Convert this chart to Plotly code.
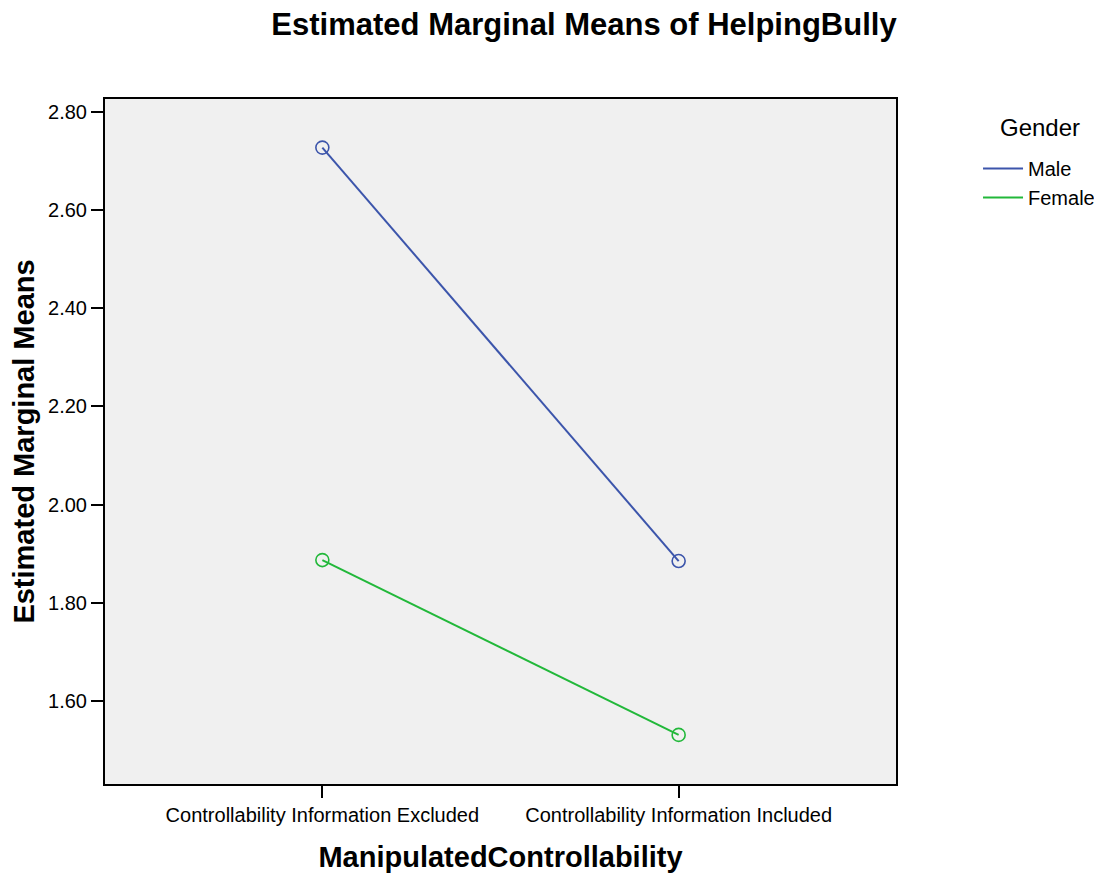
import plotly.graph_objects as go

categories = ["Controllability Information Excluded", "Controllability Information Included"]
male = [2.727, 1.885]
female = [1.887, 1.531]
y_ticks = [1.6, 1.8, 2.0, 2.2, 2.4, 2.6, 2.8]
y_tick_labels = ["1.60", "1.80", "2.00", "2.20", "2.40", "2.60", "2.80"]

BLUE = "#3C55AB"
GREEN = "#22B83A"
FONT = "Liberation Sans, Arial, sans-serif"

fig = go.Figure()
for name, vals, col in [("Male", male, BLUE), ("Female", female, GREEN)]:
    fig.add_trace(go.Scatter(x=[0, 1], y=vals, mode="lines", name=name,
                             line=dict(color=col, width=2)))
    fig.add_trace(go.Scatter(x=[0, 1], y=vals, mode="markers", showlegend=False,
                             marker=dict(symbol="circle-open", size=13, color=col,
                                         line=dict(width=1.6, color=col))))

fig.update_layout(
    width=1102, height=880,
    paper_bgcolor="white", plot_bgcolor="#F0F0F0",
    margin=dict(l=97, r=214, t=91, b=104, autoexpand=False),
    font=dict(family=FONT, color="black"),
    title=dict(text="<b>Estimated Marginal Means of HelpingBully</b>",
               x=576/1102, xanchor="center", y=1 - 16/880, yanchor="middle",
               xref="container", yref="container",
               font=dict(size=31, family=FONT, color="black")),
    legend=dict(x=1.1037, y=0.927, xanchor="left", yanchor="top",
                font=dict(size=20), tracegroupgap=0, itemwidth=40,
                bgcolor="rgba(0,0,0,0)"),
    showlegend=True,
    annotations=[dict(text="Gender", xref="paper", yref="paper",
                      x=1.182, y=0.9577, xanchor="center", yanchor="middle",
                      showarrow=False, font=dict(size=24, family=FONT, color="black"))],
)
fig.update_xaxes(
    range=[-0.61, 1.61], tickvals=[0, 1], ticktext=categories,
    ticks="outside", ticklen=12, tickwidth=2, tickcolor="black",
    showgrid=False, zeroline=False, showline=True, linecolor="black", linewidth=2,
    mirror=True, tickfont=dict(size=20),
    title=dict(text="<b>ManipulatedControllability</b>", font=dict(size=29), standoff=22),
)
fig.update_yaxes(
    range=[1.431, 2.826], tickvals=y_ticks, ticktext=y_tick_labels,
    ticks="outside", ticklen=12, tickwidth=2, tickcolor="black",
    showgrid=False, zeroline=False, showline=True, linecolor="black", linewidth=2,
    mirror=True, tickfont=dict(size=20),
    title=dict(text="<b>Estimated Marginal Means</b>", font=dict(size=29), standoff=10),
)

fig.write_html("out.html")
